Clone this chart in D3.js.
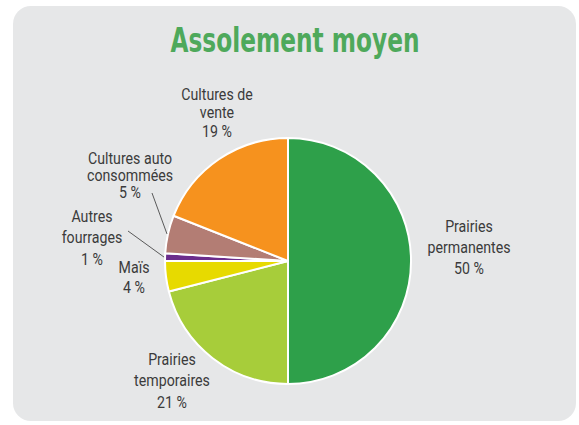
<!DOCTYPE html>
<html>
<head>
<meta charset="utf-8">
<script src="https://cdn.jsdelivr.net/npm/d3@7"></script>
<style>
  body { margin: 0; background: #ffffff; }
  svg { display: block; }
  .lbl { font-family: Roboto, "Noto Sans", sans-serif; font-weight: 400; font-size: 16.5px; fill: #3b3b3b; }
</style>
</head>
<body>
<svg id="drawing_region"></svg>
<script>
// slices in drawing order, clockwise from 12 o'clock
const categories = ["Prairies permanentes", "Prairies temporaires", "Maïs", "Autres fourrages", "Cultures auto consommées", "Cultures de vente"];
const values = [50, 21, 4, 1, 5, 19];
const labelLines = [
    ["Prairies", "permanentes", "50 %"],
    ["Prairies", "temporaires", "21 %"],
    ["Maïs", "4 %"],
    ["Autres", "fourrages", "1 %"],
    ["Cultures auto", "consommées", "5 %"],
    ["Cultures de", "vente", "19 %"]
];
const colors = ["#2ea04a", "#a7cd3a", "#e7da00", "#6b2d8c", "#b37d74", "#f6921e"];

const config = {
    width: 579,
    height: 425,
    cx: 288,
    cy: 261,
    radius: 123
};

// label block anchors (relative to pie centre) and leader-line starts
const labelLayout = [
    { dx: 181, dy: -29, lh: 21 },
    { dx: -116, dy: 104, lh: 21.5 },
    { dx: -154, dy: 12, lh: 20 },
    { dx: -196, dy: -39, lh: 21.5 },
    { dx: -158, dy: -97, lh: 17 },
    { dx: -71, dy: -161, lh: 18.5 }
];
const leaders = { 4: [-136, -68], 3: [-160, -30] };

const svg = d3.select('#drawing_region')
    .attr('width', config.width)
    .attr('height', config.height);

svg.append('rect')
    .attr('x', 13).attr('y', 6)
    .attr('width', 563).attr('height', 415)
    .attr('rx', 18).attr('ry', 18)
    .attr('fill', '#e6e7e8');

svg.append('text')
    .attr('x', 295)
    .attr('y', 52)
    .attr('text-anchor', 'middle')
    .attr('textLength', 249)
    .attr('lengthAdjust', 'spacingAndGlyphs')
    .style('font-family', '"Liberation Sans Narrow", "DejaVu Sans Condensed", sans-serif')
    .style('font-weight', 'bold')
    .style('font-size', '33px')
    .style('fill', '#4ea95b')
    .text('Assolement moyen');

const data = categories.map((c, i) => ({ name: c, value: values[i], idx: i }));

const pie = d3.pie().sort(null).value(d => d.value);
const arc = d3.arc().innerRadius(0).outerRadius(config.radius);
const arcs = pie(data);

const chart = svg.append('g')
    .attr('transform', `translate(${config.cx}, ${config.cy})`);

chart.selectAll('path')
    .data(arcs)
    .join('path')
    .attr('d', arc)
    .attr('fill', d => colors[d.data.idx])
    .attr('stroke', '#ffffff')
    .attr('stroke-width', 2)
    .attr('stroke-linejoin', 'round');

// leader lines
Object.keys(leaders).forEach(k => {
    const a = arcs[+k];
    const mid = (a.startAngle + a.endAngle) / 2;
    const r = config.radius + 1;
    chart.append('line')
        .attr('x1', leaders[k][0]).attr('y1', leaders[k][1])
        .attr('x2', Math.sin(mid) * r).attr('y2', -Math.cos(mid) * r)
        .attr('stroke', '#4a4a4a')
        .attr('stroke-width', 0.9);
});

// labels
arcs.forEach((a, i) => {
    const lay = labelLayout[i];
    const g = chart.append('g')
        .attr('transform', `translate(${lay.dx}, ${lay.dy}) scale(0.86, 1)`);
    g.append('text')
        .attr('class', 'lbl')
        .attr('text-anchor', 'middle')
        .selectAll('tspan')
        .data(labelLines[i])
        .join('tspan')
        .attr('x', 0)
        .attr('y', (d, j) => j * lay.lh)
        .text(d => d);
});
</script>
</body>
</html>
